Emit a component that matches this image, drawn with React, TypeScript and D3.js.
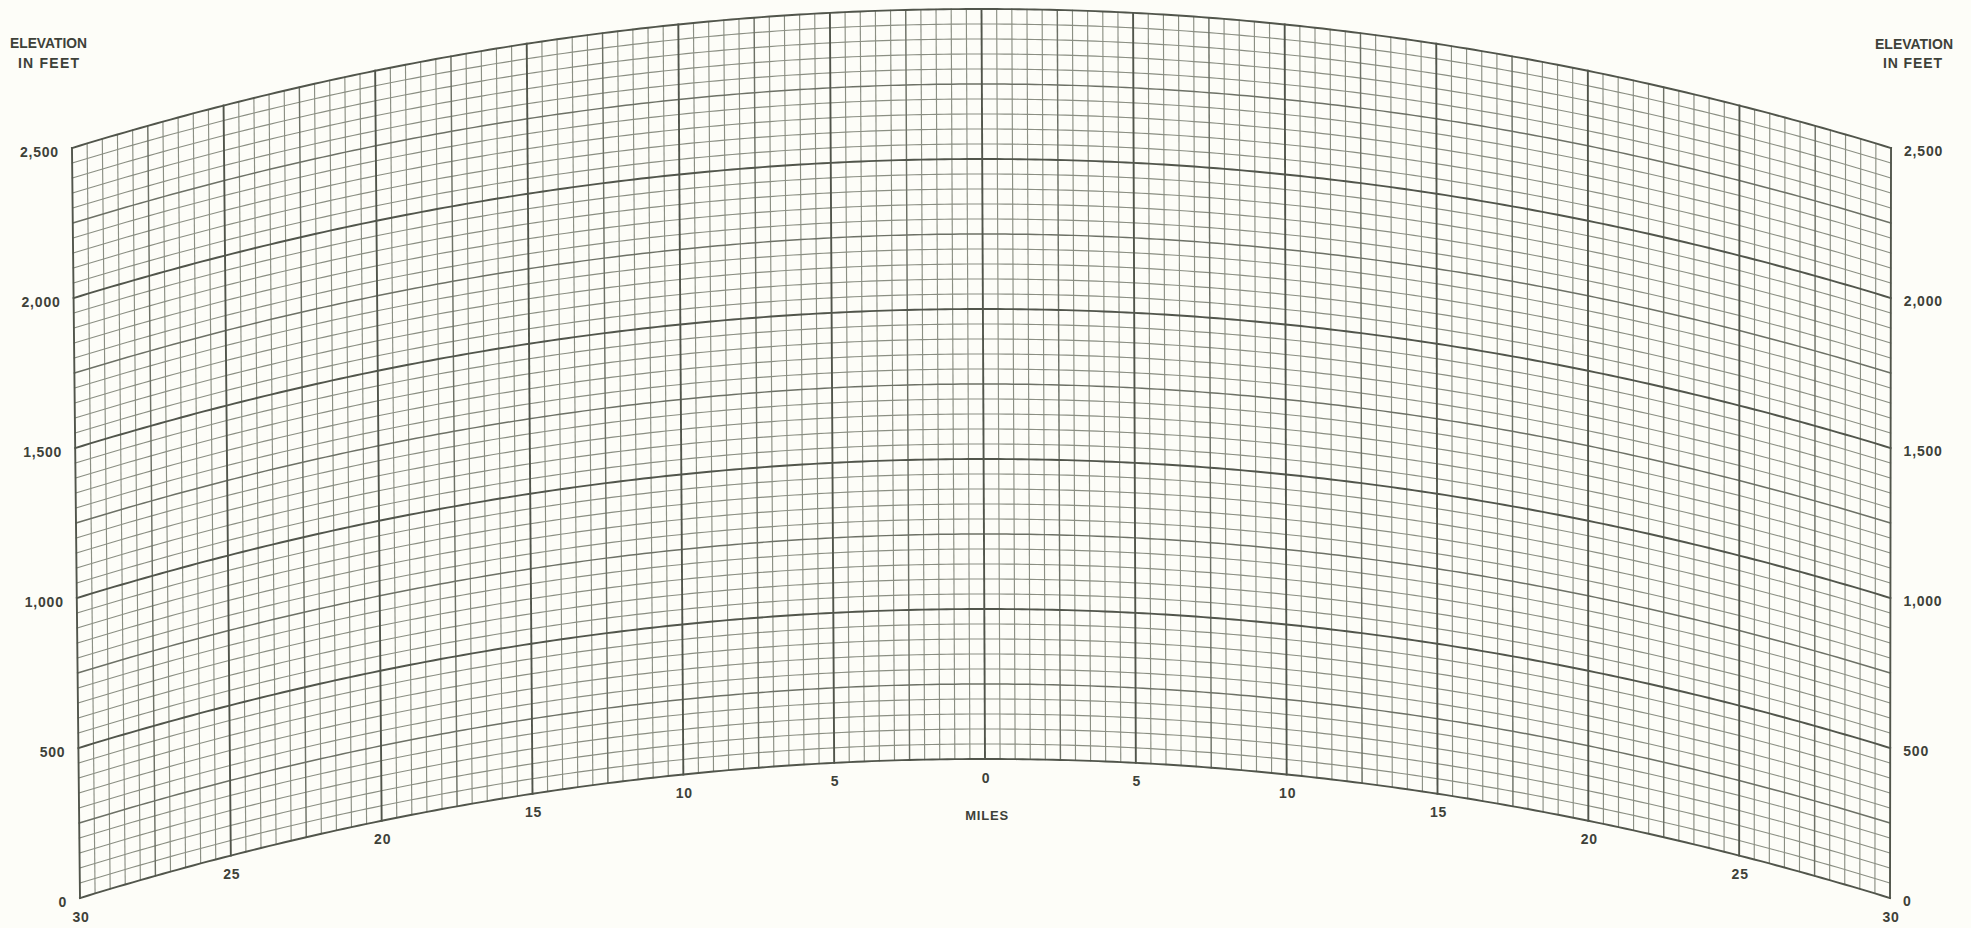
import React from "react";
import * as d3 from "d3";

// ---- data ----
const mileTicks = [-30, -25, -20, -15, -10, -5, 0, 5, 10, 15, 20, 25, 30];
const elevationTicks = [0, 500, 1000, 1500, 2000, 2500];
const axisTitleLines = ["ELEVATION", "IN FEET"];
const milesTitle = "MILES";
const MILE_RANGE = [-30, 30];
const ELEV_RANGE = [0, 2500];
const MINOR_MILE = 0.5;
const MINOR_FT = 50;
const CURVE_FT_PER_MI2 = 0.515; // earth-curvature drop (feet per mile^2)

const W = 1971;
const H = 928;

export default function App() {
  const xMile = d3.scaleLinear().domain(MILE_RANGE).range([80, 1890]);
  const yElev = d3.scaleLinear().domain(ELEV_RANGE).range([759, 9]);
  const shearPx = 3.5;
  const spread = 0.005;
  const px = (m: number, e: number) => {
    const t = e / ELEV_RANGE[1];
    return xMile(m * (1 + spread * t)) - shearPx * t;
  };
  const py = (m: number, e: number) => yElev(e - CURVE_FT_PER_MI2 * m * m);

  const miles = d3.range(MILE_RANGE[0], MILE_RANGE[1] + 1e-9, MINOR_MILE);
  const elevs = d3.range(ELEV_RANGE[0], ELEV_RANGE[1] + 1e-9, MINOR_FT);
  const line = d3.line<[number, number]>().x((d) => d[0]).y((d) => d[1]);

  const level = (m: number, n: number) => Math.abs(m % n) < 1e-9;

  const styleFor = (kind: number) =>
    kind === 2
      ? { stroke: "#51554b", strokeWidth: 1.9 }
      : kind === 1
      ? { stroke: "#6d7166", strokeWidth: 1.45 }
      : { stroke: "#8b8f83", strokeWidth: 1.15 };

  const vLines = miles.map((m) => {
    const edge = Math.abs(m) === 30;
    const kind = edge || level(m, 5) ? 2 : level(m, 2.5) ? 1 : 0;
    return {
      kind,
      d: line([
        [px(m, ELEV_RANGE[0]), py(m, ELEV_RANGE[0])],
        [px(m, ELEV_RANGE[1]), py(m, ELEV_RANGE[1])],
      ]) as string,
    };
  });
  const hLines = elevs.map((e) => {
    const kind = level(e, 500) ? 2 : level(e, 250) ? 1 : 0;
    const pts: [number, number][] = d3
      .range(MILE_RANGE[0], MILE_RANGE[1] + 1e-9, 0.25)
      .map((m) => [px(m, e), py(m, e)]);
    return { kind, d: line(pts) as string };
  });
  const all = [...vLines, ...hLines].sort((a, b) => a.kind - b.kind);

  const fmt = d3.format(",");
  const textColor = "#3e4139";
  const font = "'Liberation Sans', Arial, sans-serif";

  return (
    <div style={{ position: "absolute", left: 0, top: 0 }}>
      <svg width={W} height={H} style={{ display: "block" }}>
        <rect x={0} y={0} width={W} height={H} fill="#fdfdf8" />
        <g fill="none" strokeLinecap="square">
          {all.map((l, i) => (
            <path key={i} d={l.d} {...styleFor(l.kind)} />
          ))}
        </g>
        <g fill={textColor} fontFamily={font} fontWeight="bold" fontSize={14}>
          <text x={10} y={43} dominantBaseline="central" textLength={77} lengthAdjust="spacingAndGlyphs">
            {axisTitleLines[0]}
          </text>
          <text x={18} y={63} dominantBaseline="central" textLength={61} lengthAdjust="spacing">
            {axisTitleLines[1]}
          </text>
          <text x={1875} y={44} dominantBaseline="central" textLength={78} lengthAdjust="spacingAndGlyphs">
            {axisTitleLines[0]}
          </text>
          <text x={1883} y={63} dominantBaseline="central" textLength={59} lengthAdjust="spacing">
            {axisTitleLines[1]}
          </text>
          {elevationTicks.map((e) => (
            <text
              key={"l" + e}
              x={px(MILE_RANGE[0], e) - 13}
              y={py(MILE_RANGE[0], e) + 4}
              textAnchor="end"
              dominantBaseline="central"
              letterSpacing={0.8}
            >
              {fmt(e)}
            </text>
          ))}
          {elevationTicks.map((e) => (
            <text
              key={"r" + e}
              x={px(MILE_RANGE[1], e) + 13}
              y={py(MILE_RANGE[1], e) + 3}
              textAnchor="start"
              dominantBaseline="central"
              letterSpacing={0.8}
            >
              {fmt(e)}
            </text>
          ))}
          {mileTicks.map((m) => (
            <text
              key={"m" + m}
              x={px(m, 0) + 1}
              y={py(m, 0) + 18.5}
              textAnchor="middle"
              dominantBaseline="central"
              letterSpacing={0.8}
            >
              {Math.abs(m)}
            </text>
          ))}
          <text
            x={px(0, 0) + 2}
            y={py(0, 0) + 56}
            textAnchor="middle"
            dominantBaseline="central"
            fontSize={13}
            letterSpacing={0.8}
          >
            {milesTitle}
          </text>
        </g>
      </svg>
    </div>
  );
}
